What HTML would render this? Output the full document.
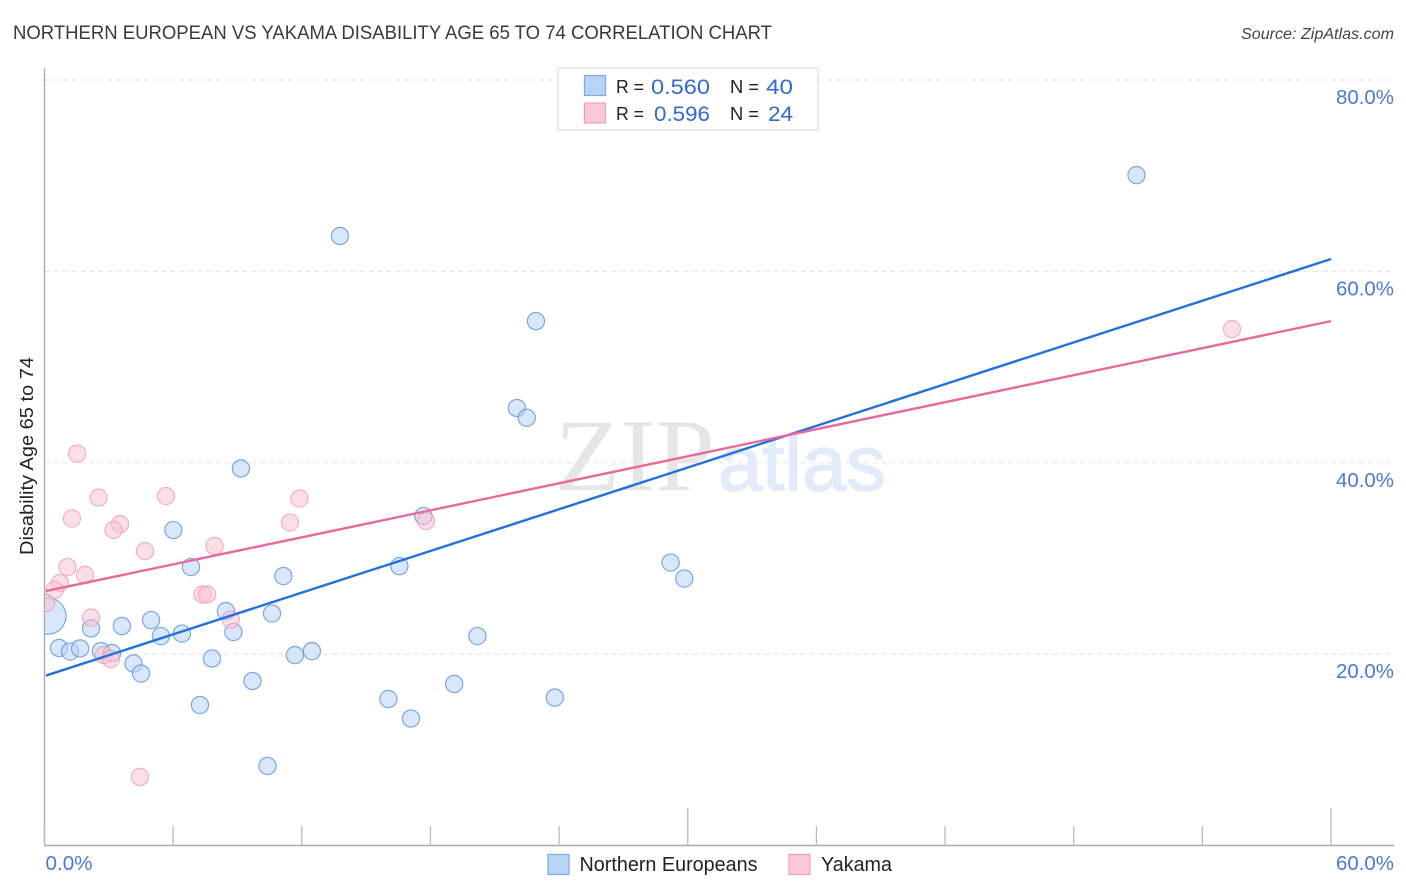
<!DOCTYPE html>
<html lang="en">
<head>
<meta charset="utf-8">
<title>Northern European vs Yakama Disability Age 65 to 74 Correlation Chart</title>
<style>
html,body{margin:0;padding:0;background:#fff;}
body{width:1406px;height:892px;overflow:hidden;}
svg{display:block;font-family:"Liberation Sans",sans-serif;}
</style>
</head>
<body>
<svg id="chart" xmlns="http://www.w3.org/2000/svg" width="1406" height="892" viewBox="0 0 1406 892">
  <defs><clipPath id="plot-clip"><rect x="45" y="60" width="1349" height="785"/></clipPath></defs>
  <text x="13" y="39" font-size="19" fill="#3a3a3a" textLength="759" lengthAdjust="spacingAndGlyphs">NORTHERN EUROPEAN VS YAKAMA DISABILITY AGE 65 TO 74 CORRELATION CHART</text>
  <text x="1241" y="39" font-size="15.5" font-style="italic" fill="#444" textLength="153" lengthAdjust="spacingAndGlyphs">Source: ZipAtlas.com</text>
  <g id="grid"></g>
  <g>
    <text x="555" y="490" font-family="'Liberation Serif',serif" font-size="103" fill="#e6e6e6" textLength="160" lengthAdjust="spacingAndGlyphs">ZIP</text>
    <text x="718" y="490" style="font-family:'Liberation Sans',Arial,sans-serif" font-size="78" fill="#e1ebf9" stroke="#e1ebf9" stroke-width="1.5" textLength="168" lengthAdjust="spacingAndGlyphs">atlas</text>
  </g>
  <g id="axes"></g>
  <g id="points" clip-path="url(#plot-clip)"></g>
  <g id="trends"></g>
  <text transform="translate(33,456) rotate(-90)" font-size="18.5" fill="#222" text-anchor="middle" textLength="198" lengthAdjust="spacingAndGlyphs">Disability Age 65 to 74</text>
  <g>
    <rect x="558" y="68" width="260" height="62" fill="#fff" stroke="#ddd" stroke-width="1.2"/>
    <rect x="584.5" y="75.5" width="21" height="20" fill="#b9d3f7" stroke="#7fa9e4" stroke-width="1.2"/>
    <rect x="584.5" y="103" width="21" height="20" fill="#fcc7d8" stroke="#f0a0b9" stroke-width="1.2"/>
    <text x="616" y="93" font-size="18.5" fill="#222" textLength="28" lengthAdjust="spacingAndGlyphs">R =</text>
    <text x="651" y="94" font-size="21" fill="#2f6bd0" textLength="59" lengthAdjust="spacingAndGlyphs">0.560</text>
    <text x="730" y="93" font-size="18.5" fill="#222" textLength="29" lengthAdjust="spacingAndGlyphs">N =</text>
    <text x="766" y="94" font-size="21" fill="#2f6bd0" textLength="27" lengthAdjust="spacingAndGlyphs">40</text>
    <text x="616" y="120" font-size="18.5" fill="#222" textLength="28" lengthAdjust="spacingAndGlyphs">R =</text>
    <text x="654" y="121" font-size="21" fill="#2f6bd0" textLength="56" lengthAdjust="spacingAndGlyphs">0.596</text>
    <text x="730" y="120" font-size="18.5" fill="#222" textLength="29" lengthAdjust="spacingAndGlyphs">N =</text>
    <text x="768" y="121" font-size="21" fill="#2f6bd0" textLength="25" lengthAdjust="spacingAndGlyphs">24</text>
  </g>
  <g>
    <rect x="548" y="854.5" width="21" height="20" fill="#b9d3f7" stroke="#7fa9e4" stroke-width="1.2"/>
    <text x="579.5" y="871" font-size="20" fill="#222" textLength="178" lengthAdjust="spacingAndGlyphs">Northern Europeans</text>
    <rect x="789" y="854.5" width="21" height="20" fill="#fcc7d8" stroke="#f0a0b9" stroke-width="1.2"/>
    <text x="821" y="871" font-size="20" fill="#222" textLength="71" lengthAdjust="spacingAndGlyphs">Yakama</text>
  </g>
</svg>
<script>
const yTickValues = [20, 40, 60, 80];
const yTickLabels = ['20.0%', '40.0%', '60.0%', '80.0%'];
const xTickValues = [0, 6, 12, 18, 24, 30, 36, 42, 48, 54, 60];
const xMajorTickValues = [30, 60];
const xEndValues = [0, 60];
const xEndLabels = ['0.0%', '60.0%'];

const blueX = [50.93, 13.78, 22.92, 22.03, 22.49, 9.16, 17.67, 6.01, 16.55, 6.83, 29.2, 29.84, 11.14, 10.61, 8.46, 4.97, 3.61, 2.17, 5.43, 6.41, 8.81, 20.19, 0.68, 1.19, 1.66, 2.63, 3.15, 7.81, 11.68, 12.47, 4.15, 4.5, 9.7, 19.11, 16.04, 23.8, 7.25, 17.09, 10.4, 0.16];
const blueY = [70.06, 63.7, 54.8, 45.72, 44.7, 39.4, 34.43, 32.97, 29.2, 29.1, 29.57, 27.9, 28.16, 24.24, 24.5, 23.56, 22.94, 22.68, 21.89, 22.15, 22.31, 21.89, 20.64, 20.27, 20.59, 20.32, 20.11, 19.54, 19.9, 20.32, 19.02, 17.97, 17.19, 16.88, 15.31, 15.46, 14.68, 13.27, 8.31, 23.97];
const blueSizes = [1, 1, 1, 1, 1, 1, 1, 1, 1, 1, 1, 1, 1, 1, 1, 1, 1, 1, 1, 1, 1, 1, 1, 1, 1, 1, 1, 1, 1, 1, 1, 1, 1, 1, 1, 1, 1, 1, 1, 2.1];

const pinkX = [55.38, 1.52, 2.52, 5.66, 11.89, 1.28, 3.52, 3.22, 11.45, 17.79, 4.69, 7.93, 1.07, 1.89, 0.72, 0.47, 7.37, 7.58, 0.07, 2.17, 8.69, 2.77, 3.1, 4.45];
const pinkY = [53.97, 40.96, 36.36, 36.52, 36.26, 34.17, 33.59, 32.97, 33.75, 33.91, 30.77, 31.3, 29.1, 28.27, 27.43, 26.7, 26.23, 26.23, 25.34, 23.82, 23.6, 19.9, 19.49, 7.16];

const trendX = [0.07, 60];
const blueTrendY = [17.76, 61.29];
const pinkTrendY = [26.59, 54.8];

const NS = 'http://www.w3.org/2000/svg';
const xScale = v => 44.5 + v * (1331 - 44.5) / 60;
const yScale = v => 845.5 - v * (845.5 - 80) / 80;

function make(parent, tag, attrs) {
  const el = document.createElementNS(NS, tag);
  for (const k in attrs) el.setAttribute(k, attrs[k]);
  parent.appendChild(el);
  return el;
}

const grid = document.getElementById('grid');
yTickValues.forEach((v, i) => {
  const line = make(grid, 'line', {x1: 44.5, x2: 1394, y1: yScale(v), y2: yScale(v), stroke: '#e2e2e2', 'stroke-width': 1, 'stroke-dasharray': '5 4'});
  
  
  const label = make(grid, 'text', {x: 1394, y: yScale(v) + 24, 'font-size': 20, fill: '#4a7ad6', 'text-anchor': 'end', textLength: 58, lengthAdjust: 'spacingAndGlyphs'});
  
  
  label.textContent = yTickLabels[i];
});

const axes = document.getElementById('axes');
const yAxis = make(axes, 'line', {x1: 44.5, x2: 44.5, y1: 68, y2: 845.5, stroke: '#aaa', 'stroke-width': 1.4});


const xAxis = make(axes, 'line', {x1: 44, x2: 1394, y1: 845.5, y2: 845.5, stroke: '#aaa', 'stroke-width': 1.4});


xTickValues.forEach(v => {
  const top = xMajorTickValues.includes(v) ? 808 : 826;
  const tick = make(axes, 'line', {x1: xScale(v), x2: xScale(v), y1: top, y2: 845.5, stroke: '#bbb', 'stroke-width': 1.3});
  
  
});
xEndValues.forEach((v, i) => {
  const label = make(axes, 'text', {x: i === 0 ? xScale(v) + 1 : 1394, y: 870, 'font-size': 20, fill: '#4a7ad6', 'text-anchor': i === 0 ? 'start' : 'end', textLength: i === 0 ? 47 : 58, lengthAdjust: 'spacingAndGlyphs'});
  
  
  label.textContent = xEndLabels[i];
});

const points = document.getElementById('points');
blueX.forEach((v, i) => {
  const c = make(points, 'circle', {cx: xScale(v), cy: yScale(blueY[i]), r: 8.6 * blueSizes[i], fill: '#b9d3f7', 'fill-opacity': 0.55, stroke: '#5f93dc', 'stroke-opacity': 0.8, 'stroke-width': 1.2});
  
  
});
pinkX.forEach((v, i) => {
  const c = make(points, 'circle', {cx: xScale(v), cy: yScale(pinkY[i]), r: 8.6, fill: '#f9c3d4', 'fill-opacity': 0.55, stroke: '#eb9bb5', 'stroke-opacity': 0.75, 'stroke-width': 1.2});
  
  
});

const trends = document.getElementById('trends');
const blueTrend = make(trends, 'line', {x1: xScale(trendX[0]), y1: yScale(blueTrendY[0]), x2: xScale(trendX[1]), y2: yScale(blueTrendY[1]), stroke: '#2272dc', 'stroke-width': 2.4});


const pinkTrend = make(trends, 'line', {x1: xScale(trendX[0]), y1: yScale(pinkTrendY[0]), x2: xScale(trendX[1]), y2: yScale(pinkTrendY[1]), stroke: '#e8699a', 'stroke-width': 2.4});


</script>
</body>
</html>
